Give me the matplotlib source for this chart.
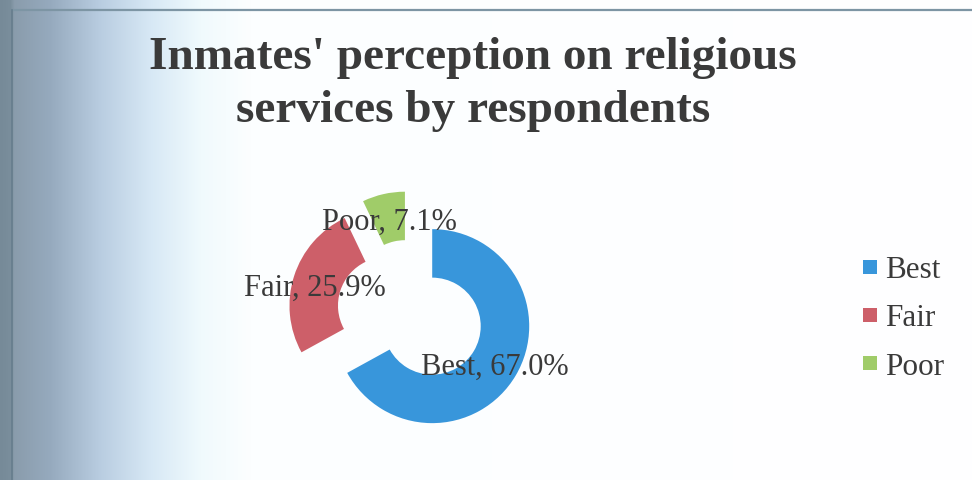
import numpy as np
import matplotlib.pyplot as plt
from matplotlib.lines import Line2D

# survey answers
answers = ['Best', 'Fair', 'Poor']
shares = [67.0, 25.9, 7.1]
colors = ['#3896db', '#cd5f69', '#a0cc69']

W, H = 972, 481
serif = ['Liberation Serif', 'DejaVu Serif']
ink = '#3a3a3a'

fig = plt.figure(figsize=(W / 100, H / 100), dpi=100)

# page shading down the left edge of the scan
bg = fig.add_axes([0, 0, 1, 1])
xs = np.arange(W)
sx = [0, 10, 14, 50, 100, 150, 200, 250, W]
r = np.interp(xs, sx, [118, 122, 138, 150, 185, 215, 240, 252, 255])
g = np.interp(xs, sx, [138, 142, 156, 170, 205, 232, 250, 254, 255])
b = np.interp(xs, sx, [152, 156, 172, 190, 225, 245, 253, 255, 255])
shade = np.dstack([r, g, b]) / 255.0
bg.imshow(np.repeat(shade, 2, axis=0), extent=(0, W, 0, H), aspect='auto')
bg.plot([12, W], [H - 11, H - 11], color='#7d95a4', lw=1.6)
bg.plot([12, 12], [0, H - 11], color='#667c8c', lw=1.2)
bg.set_xlim(0, W)
bg.set_ylim(0, H)
bg.axis('off')

# donut, radius 1 == 97 px, centred at (410, 314) px from top-left
R = 97.0
cx, cy = 410.5, H - 314.3
ax = fig.add_axes([0, 0, 1, 1])
ax.patch.set_alpha(0)
wedges, _ = ax.pie(shares, colors=colors, startangle=90, counterclock=False,
                   explode=[0.26] * len(shares), radius=1.0,
                   wedgeprops=dict(width=0.5, linewidth=0))
ax.set_xlim(-cx / R, (W - cx) / R)
ax.set_ylim(-cy / R, (H - cy) / R)
ax.set_aspect('auto')
ax.axis('off')

# data labels
label_pos = [(495, 367), (315, 288), (389, 222)]
for name, v, (px, py) in zip(answers, shares, label_pos):
    fig.text(px / W, 1 - py / H, f'{name}, {v:.1f}%', ha='center', va='center',
             fontsize=22, family=serif, color=ink)

fig.text(473 / W, 1 - 37 / H,
         "Inmates' perception on religious\nservices by respondents",
         ha='center', va='top', fontsize=34, fontweight='bold', family=serif,
         color=ink, linespacing=1.34)

handles = [Line2D([], [], ls='none', marker='s', markersize=9.4, color=c,
                  markeredgewidth=0) for c in colors]
fig.legend(handles, answers, loc='center left',
           bbox_to_anchor=(862 / W, 1 - 319 / H), frameon=False,
           prop={'family': serif, 'size': 22.5}, labelcolor=ink,
           handlelength=0.5, handletextpad=0.25, labelspacing=0.61,
           borderpad=0, borderaxespad=0)

fig.savefig('out.png', dpi=100)
